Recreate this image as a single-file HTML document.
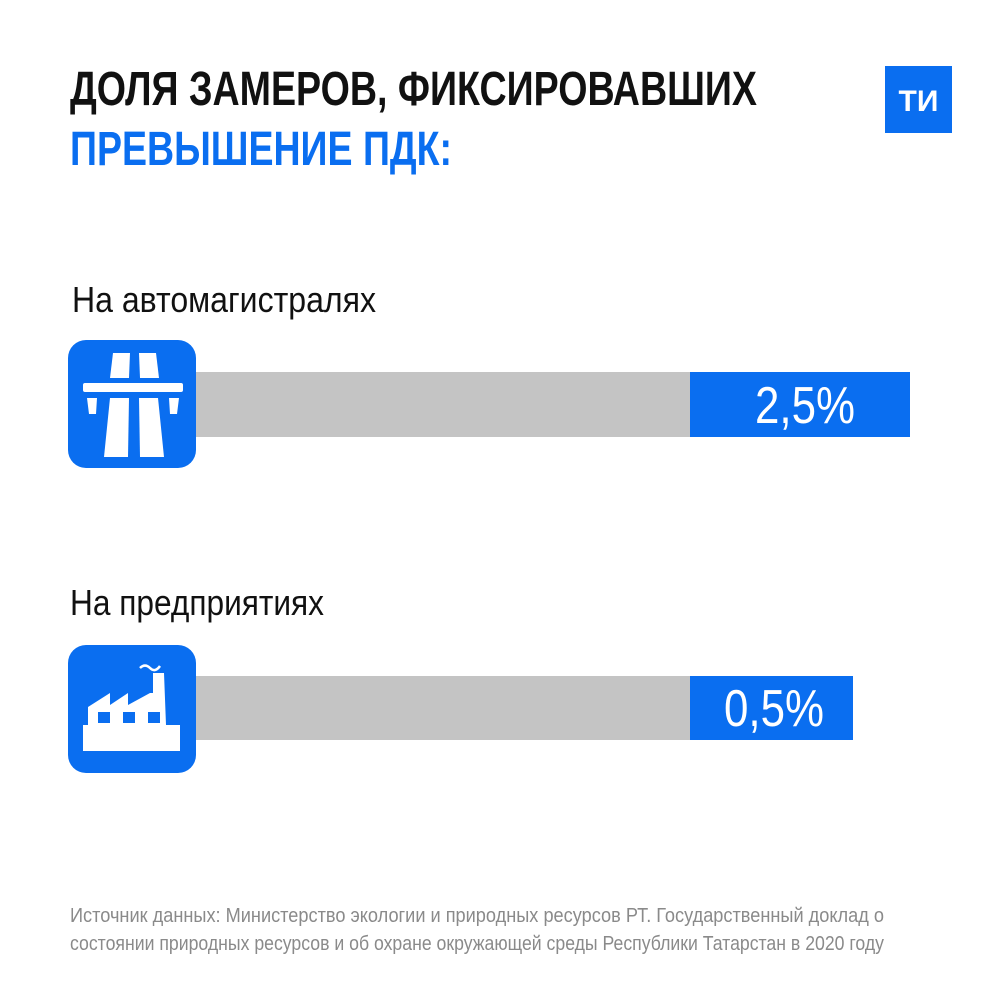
<!DOCTYPE html>
<html><head><meta charset="utf-8"><style>body{margin:0;background:#fff}svg{display:block}</style></head><body>
<svg width="1000" height="1000" xmlns="http://www.w3.org/2000/svg" font-family="'Liberation Sans Narrow','Liberation Sans',sans-serif">
<text x="70" y="105" font-size="48" font-weight="bold" textLength="687" lengthAdjust="spacingAndGlyphs" fill="#111">ДОЛЯ ЗАМЕРОВ, ФИКСИРОВАВШИХ</text>
<text x="70" y="165" font-size="48" font-weight="bold" textLength="382" lengthAdjust="spacingAndGlyphs" fill="#0a6ef0">ПРЕВЫШЕНИЕ ПДК:</text>
<rect x="885" y="66" width="67" height="67" fill="#0a6ef0"/>
<text x="918.5" y="111" font-size="30" font-weight="bold" fill="#fff" text-anchor="middle">ТИ</text>

<text x="72" y="312" font-size="36" textLength="304" lengthAdjust="spacingAndGlyphs" fill="#111">На автомагистралях</text>
<rect x="196" y="372" width="714" height="65" fill="#c4c4c4"/>
<rect x="690" y="372" width="220" height="65" fill="#0a6ef0"/>
<text x="755" y="423" font-size="52" textLength="100" lengthAdjust="spacingAndGlyphs" fill="#fff">2,5%</text>
<rect x="68" y="340" width="128" height="128" rx="18" fill="#0a6ef0"/>
<g fill="#fff">
<polygon points="113,353 130,353 129,378 110,378"/>
<polygon points="139,353 156,353 159,378 140,378"/>
<rect x="83" y="383" width="100" height="9" rx="2"/>
<polygon points="87,398 97,398 96,414 89,414"/>
<polygon points="169,398 179,398 177,414 170,414"/>
<polygon points="110,398 129,398 128,457 104,457"/>
<polygon points="139,398 158,398 164,457 140,457"/>
</g>

<text x="70" y="615" font-size="36" textLength="254" lengthAdjust="spacingAndGlyphs" fill="#111">На предприятиях</text>
<rect x="196" y="676" width="657" height="64" fill="#c4c4c4"/>
<rect x="690" y="676" width="163" height="64" fill="#0a6ef0"/>
<text x="724" y="726" font-size="52" textLength="100" lengthAdjust="spacingAndGlyphs" fill="#fff">0,5%</text>
<rect x="68" y="645" width="128" height="128" rx="18" fill="#0a6ef0"/>
<g fill="#fff">
<polygon points="88,707 110,693 110,705 128,693 128,705 150,693 153,693 153,673 164,673 166,725 180,725 180,751 83,751 83,725 88,725"/>
<path d="M140,668 q5,-5 10,0 t10,-2" stroke="#fff" stroke-width="2.5" fill="none"/>
</g>
<g fill="#0a6ef0">
<rect x="98" y="712" width="12" height="11"/><rect x="123" y="712" width="12" height="11"/><rect x="148" y="712" width="12" height="11"/>
</g>

<text x="70" y="922" font-size="20" textLength="814" lengthAdjust="spacingAndGlyphs" fill="#8a8a8a">Источник данных: Министерство экологии и природных ресурсов РТ. Государственный доклад о</text>
<text x="70" y="950" font-size="20" textLength="814" lengthAdjust="spacingAndGlyphs" fill="#8a8a8a">состоянии природных ресурсов и об охране окружающей среды Республики Татарстан в 2020 году</text>
</svg>
</body></html>
